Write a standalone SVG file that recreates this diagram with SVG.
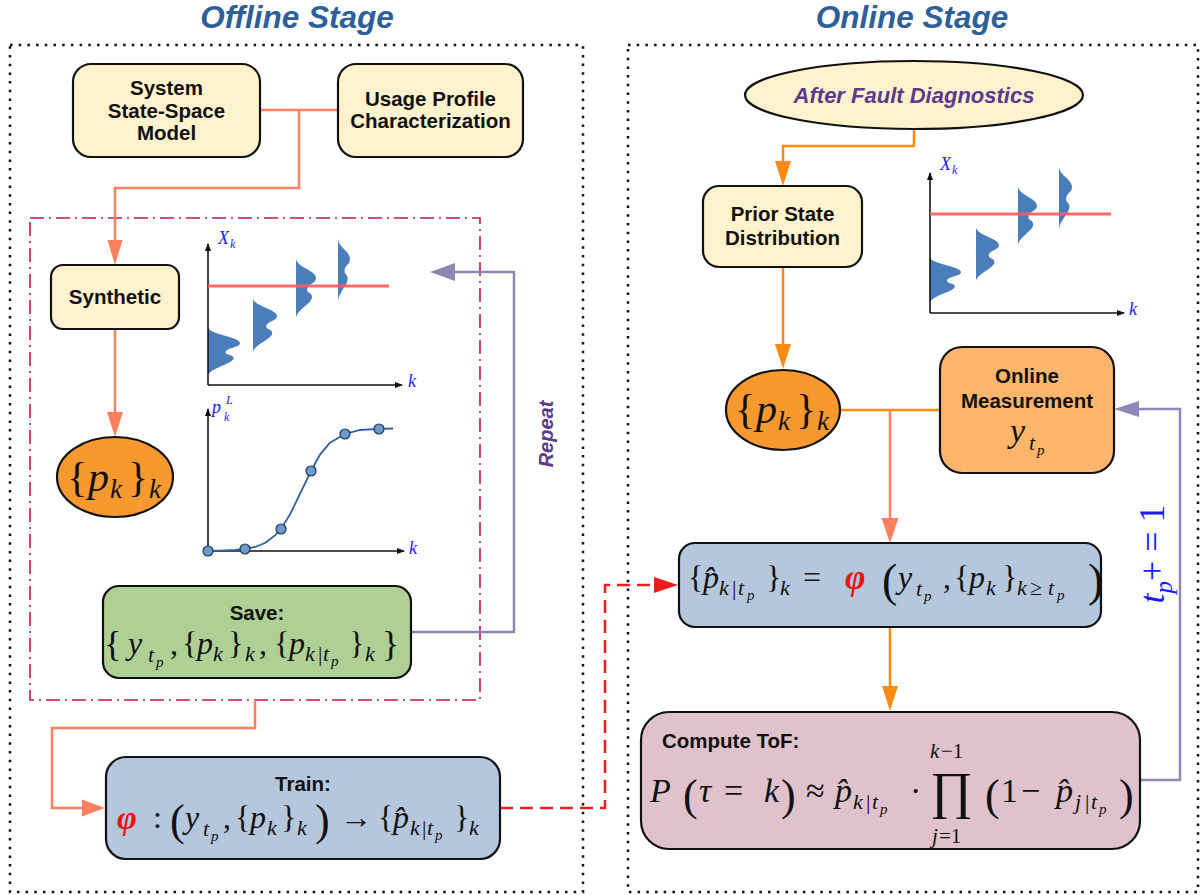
<svg xmlns="http://www.w3.org/2000/svg" xmlns:xlink="http://www.w3.org/1999/xlink" width="1201" height="895" viewBox="0 0 1201 895">
<style>
.lbl{font-family:"Liberation Sans",Arial,sans-serif;font-weight:bold;font-size:20.5px;fill:#111;text-anchor:middle}
.title{font-family:"Liberation Sans",Arial,sans-serif;font-weight:bold;font-style:italic;font-size:31.5px;fill:#2d6099;text-anchor:middle}
.m{font-family:"Liberation Serif","DejaVu Serif",serif;fill:#111}
.i{font-style:italic}
.box{stroke:#111;stroke-width:2.2}
.yel{fill:#fff2cc}
.outer{fill:none;stroke:#111;stroke-width:2.5;stroke-dasharray:2.5 6.2}
.coral{fill:none;stroke:#ff7f5e;stroke-width:2.5}
.orng{fill:none;stroke:#ff8a14;stroke-width:2.5}
.purp{fill:none;stroke:#8d88b8;stroke-width:2.5}
.ax{fill:none;stroke:#111;stroke-width:1.6}
.axl{font-family:"Liberation Serif","DejaVu Serif",serif;font-style:italic;fill:#1a1aff}
.thr{stroke:#ff5c5c;stroke-width:3;opacity:0.9}
.dist{fill:#4a7ebb}
.dot{fill:#6a9bd1;stroke:#1f3550;stroke-width:1.2}
</style>
<defs>
<path id="dist" d="M0,0 C0,15 100,20 100,33 C100,42 55,42 55,52 C55,58 80,56 80,64 C80,75 0,85 0,100 Z"/>
<marker id="axA" markerWidth="8" markerHeight="8" refX="7" refY="4" orient="auto" markerUnits="userSpaceOnUse"><path d="M0,1 L8,4 L0,7 Z" fill="#111"/></marker>
</defs>

<rect width="1201" height="895" fill="#fff"/>

<text class="title" x="297" y="28">Offline Stage</text>
<text class="title" x="912" y="28">Online Stage</text>

<rect class="outer" x="10" y="45" width="573" height="847"/>
<rect class="outer" x="628" y="45" width="570" height="847"/>
<rect x="30" y="218" width="450" height="482" fill="none" stroke="#c41650" stroke-width="1.6" stroke-dasharray="14 5 2 5"/>

<g id="connectors">
<path class="coral" d="M260,110 H338"/>
<path class="coral" d="M299,110 V188 H115 V243"/>
<polygon points="115,265 107.5,240 122.5,240" fill="#ff7f5e"/>
<path class="coral" d="M115,329 V414"/>
<polygon points="115,437 107,412 123,412" fill="#ff7f5e"/>
<path class="purp" d="M411,632 H514 V272 H452"/>
<polygon points="430,272 455,263 455,281" fill="#8d88b8"/>
<path class="coral" d="M255,700 V728 H52 V808 H84"/>
<polygon points="105,808 82,799.5 82,816.5" fill="#ff7f5e"/>
<path d="M500,808 H605 V585 H656" fill="none" stroke="#ee1c1c" stroke-width="2.5" stroke-dasharray="13 7"/>
<polygon points="678,585 654,577 654,593" fill="#ee1c1c"/>
<path class="orng" d="M914,129 V146 H783 V163"/>
<polygon points="783,186 775,161 791,161" fill="#ff8a14"/>
<path class="orng" d="M783,267 V346"/>
<polygon points="783,369 775,344 791,344" fill="#ff8a14"/>
<path class="orng" d="M840,410 H940"/>
<path class="coral" d="M890,410 V520"/>
<polygon points="890,543 881.5,518 898.5,518" fill="#ff7f5e"/>
<path class="orng" d="M890,627 V689"/>
<polygon points="890,711 882,686 898,686" fill="#ff8a14"/>
<path class="purp" d="M1140,780 H1180 V409 H1136"/>
<polygon points="1114,409 1139,401 1139,417" fill="#8d88b8"/>
<text transform="translate(553,434) rotate(-90)" font-family="Liberation Sans,Arial,sans-serif" font-weight="bold" font-style="italic" font-size="20" fill="#5b3a8c" text-anchor="middle">Repeat</text>
<text transform="translate(1164,554) rotate(-90)" class="m" style="fill:#1a1aff" text-anchor="middle" font-size="36"><tspan class="i">t</tspan><tspan class="i" font-size="25" dy="8">p</tspan><tspan dy="-8">+ = 1</tspan></text>
</g>

<g id="system-model">
<rect class="box yel" x="73" y="64" width="187" height="93" rx="18"/>
<text class="lbl" x="166.5" y="95">System</text>
<text class="lbl" x="166.5" y="118">State-Space</text>
<text class="lbl" x="166.5" y="140">Model</text>
</g>

<g id="usage-profile">
<rect class="box yel" x="338" y="64" width="185" height="93" rx="18"/>
<text class="lbl" x="430.5" y="106">Usage Profile</text>
<text class="lbl" x="430.5" y="128">Characterization</text>
</g>

<g id="synthetic">
<rect class="box yel" x="51" y="265" width="128" height="64" rx="12"/>
<text class="lbl" x="115" y="304">Synthetic</text>
</g>

<g id="pk-offline">
<ellipse class="box" cx="115" cy="477" rx="58" ry="40" fill="#f8992f"/>
<text class="m" font-size="42"><tspan x="67" y="491">{</tspan><tspan class="i" x="88" y="491">p</tspan><tspan class="i" x="110" y="498" font-size="27">k</tspan><tspan x="128" y="491">}</tspan><tspan class="i" x="149" y="498" font-size="27">k</tspan></text>
</g>

<g id="chart-offline-states">
<use xlink:href="#dist" class="dist" transform="translate(208,327) scale(0.32,0.49)"/>
<use xlink:href="#dist" class="dist" transform="translate(253,298) scale(0.24,0.55)"/>
<use xlink:href="#dist" class="dist" transform="translate(296,258) scale(0.20,0.61)"/>
<use xlink:href="#dist" class="dist" transform="translate(338,238) scale(0.12,0.64)"/>
<path class="ax" d="M208,385 V244" marker-end="url(#axA)"/>
<path class="ax" d="M208,385 H402" marker-end="url(#axA)"/>
<line class="thr" x1="208" y1="286" x2="389" y2="286"/>
<text class="axl" x="218" y="244" font-size="18">X</text><text class="axl" x="230" y="248" font-size="12">k</text>
<text class="axl" x="408" y="387" font-size="18">k</text>
</g>

<g id="chart-offline-prob">
<path class="ax" d="M208,551 V409" marker-end="url(#axA)"/>
<path class="ax" d="M208,551 H404" marker-end="url(#axA)"/>
<path d="M208,551 L220,550.6 L235,550 L245,549 L255,547 L265,543 L275,535.4 L281,529 L290,514.4 L300,493.8 L311,471 L320,454.6 L330,442.6 L345,434 L360,430 L379,428.8 L393,428.5" fill="none" stroke="#2f5f9e" stroke-width="1.8"/>
<circle class="dot" cx="208" cy="551" r="5"/>
<circle class="dot" cx="245" cy="549" r="5"/>
<circle class="dot" cx="281" cy="529" r="5"/>
<circle class="dot" cx="311" cy="471" r="5"/>
<circle class="dot" cx="345" cy="434" r="5"/>
<circle class="dot" cx="379" cy="429" r="5"/>
<text class="axl" x="212" y="413" font-size="18">p</text><text class="axl" x="226" y="404" font-size="12">L</text><text class="axl" x="224" y="421" font-size="12">k</text>
<text class="axl" x="409" y="554" font-size="18">k</text>
</g>

<g id="save">
<rect class="box" x="103" y="586" width="308" height="92" rx="16" fill="#aed094"/>
<text class="lbl" x="257" y="620" font-size="23">Save:</text>
<text class="m" font-size="32">
<tspan x="104" y="656" font-size="36">{</tspan>
<tspan class="i" x="128" y="654">y</tspan>
<tspan class="i" x="148" y="662" font-size="22">t</tspan><tspan class="i" x="156" y="667" font-size="15">p</tspan>
<tspan x="170" y="654">,</tspan>
<tspan x="182" y="654">{</tspan>
<tspan class="i" x="197" y="654">p</tspan>
<tspan class="i" x="213" y="661" font-size="22">k</tspan>
<tspan x="228" y="654">}</tspan>
<tspan class="i" x="245" y="661" font-size="22">k</tspan>
<tspan x="259" y="654">,</tspan>
<tspan x="274" y="654">{</tspan>
<tspan class="i" x="289" y="654">p</tspan>
<tspan class="i" x="305" y="661" font-size="22">k</tspan><tspan x="318" y="661" font-size="22">|</tspan><tspan class="i" x="323" y="661" font-size="22">t</tspan><tspan class="i" x="331" y="666" font-size="15">p</tspan>
<tspan x="349" y="654">}</tspan>
<tspan class="i" x="365" y="661" font-size="22">k</tspan>
<tspan x="382" y="656" font-size="36">}</tspan>
</text>
</g>

<g id="train">
<rect class="box" x="106" y="757" width="394" height="102" rx="20" fill="#b4c7dd"/>
<text class="lbl" x="303" y="791" font-size="23">Train:</text>
<text class="m" font-size="32">
<tspan class="i" x="117" y="829" font-size="34" font-weight="bold" style="fill:#ee1111">φ</tspan>
<tspan x="153" y="828">:</tspan>
<tspan x="170" y="835" font-size="44">(</tspan>
<tspan class="i" x="185" y="828">y</tspan>
<tspan class="i" x="203" y="836" font-size="22">t</tspan><tspan class="i" x="211" y="841" font-size="15">p</tspan>
<tspan x="223" y="828">,</tspan>
<tspan x="235" y="828">{</tspan>
<tspan class="i" x="250" y="828">p</tspan>
<tspan class="i" x="267" y="835" font-size="22">k</tspan>
<tspan x="281" y="828">}</tspan>
<tspan class="i" x="297" y="835" font-size="22">k</tspan>
<tspan x="315" y="835" font-size="44">)</tspan>
<tspan x="340" y="828">→</tspan>
<tspan x="378" y="828">{</tspan>
<tspan class="i" x="393" y="828">p&#x302;</tspan>
<tspan class="i" x="410" y="835" font-size="22">k</tspan><tspan x="422" y="835" font-size="22">|</tspan><tspan class="i" x="427" y="835" font-size="22">t</tspan><tspan class="i" x="435" y="840" font-size="15">p</tspan>
<tspan x="454" y="828">}</tspan>
<tspan class="i" x="469" y="835" font-size="22">k</tspan>
</text>
</g>

<g id="after-fault">
<ellipse class="box yel" cx="914" cy="95" rx="169" ry="34"/>
<text x="914" y="103" font-family="Liberation Sans,Arial,sans-serif" font-weight="bold" font-style="italic" font-size="22" fill="#5b3a8c" text-anchor="middle">After Fault Diagnostics</text>
</g>

<g id="prior">
<rect class="box yel" x="703" y="186" width="159" height="81" rx="16"/>
<text class="lbl" x="782.5" y="221">Prior State</text>
<text class="lbl" x="782.5" y="245">Distribution</text>
</g>

<g id="chart-online-states">
<use xlink:href="#dist" class="dist" transform="translate(930,257) scale(0.31,0.46)"/>
<use xlink:href="#dist" class="dist" transform="translate(976,227) scale(0.23,0.55)"/>
<use xlink:href="#dist" class="dist" transform="translate(1018,186) scale(0.19,0.60)"/>
<use xlink:href="#dist" class="dist" transform="translate(1059,166) scale(0.13,0.64)"/>
<path class="ax" d="M930,313 V173" marker-end="url(#axA)"/>
<path class="ax" d="M930,313 H1124" marker-end="url(#axA)"/>
<line class="thr" x1="930" y1="214" x2="1111" y2="214"/>
<text class="axl" x="940" y="170" font-size="18">X</text><text class="axl" x="952" y="174" font-size="12">k</text>
<text class="axl" x="1129" y="315" font-size="18">k</text>
</g>

<g id="pk-online">
<ellipse class="box" cx="783" cy="410" rx="57" ry="40" fill="#f8992f"/>
<text class="m" font-size="42"><tspan x="735" y="423">{</tspan><tspan class="i" x="756" y="423">p</tspan><tspan class="i" x="778" y="430" font-size="27">k</tspan><tspan x="796" y="423">}</tspan><tspan class="i" x="817" y="430" font-size="27">k</tspan></text>
</g>

<g id="online-measurement">
<rect class="box" x="940" y="347" width="174" height="126" rx="22" fill="#ffb56b"/>
<text class="lbl" x="1027" y="383" font-size="23.5">Online</text>
<text class="lbl" x="1027" y="408" font-size="23.5">Measurement</text>
<text class="m" font-size="34"><tspan class="i" x="1010" y="442">y</tspan><tspan class="i" x="1029" y="450" font-size="22">t</tspan><tspan class="i" x="1037" y="455" font-size="15">p</tspan></text>
</g>

<g id="estimate">
<rect class="box" x="679" y="543" width="422" height="84" rx="16" fill="#b4c7dd"/>
<text class="m" font-size="32">
<tspan x="688" y="588">{</tspan>
<tspan class="i" x="703" y="588">p&#x302;</tspan>
<tspan class="i" x="719" y="595" font-size="22">k</tspan><tspan x="732" y="595" font-size="22">|</tspan><tspan class="i" x="738" y="595" font-size="22">t</tspan><tspan class="i" x="747" y="600" font-size="15">p</tspan>
<tspan x="766" y="588">}</tspan>
<tspan class="i" x="780" y="595" font-size="22">k</tspan>
<tspan x="803" y="588">=</tspan>
<tspan class="i" x="845" y="589" font-size="35" font-weight="bold" style="fill:#ee1111">φ</tspan>
<tspan x="882" y="596" font-size="46">(</tspan>
<tspan class="i" x="898" y="588">y</tspan>
<tspan class="i" x="916" y="596" font-size="22">t</tspan><tspan class="i" x="924" y="601" font-size="15">p</tspan>
<tspan x="943" y="588">,</tspan>
<tspan x="954" y="588">{</tspan>
<tspan class="i" x="969" y="588">p</tspan>
<tspan class="i" x="986" y="595" font-size="22">k</tspan>
<tspan x="1002" y="588">}</tspan>
<tspan class="i" x="1017" y="595" font-size="22">k</tspan><tspan x="1030" y="595" font-size="22">≥</tspan><tspan class="i" x="1048" y="595" font-size="22">t</tspan><tspan class="i" x="1057" y="600" font-size="15">p</tspan>
<tspan x="1088" y="596" font-size="46">)</tspan>
</text>
</g>

<g id="compute-tof">
<rect class="box" x="641" y="712" width="499" height="137" rx="28" fill="#dfc2cc"/>
<text class="lbl" x="662" y="748" font-size="23.5" style="text-anchor:start">Compute ToF:</text>
<text class="m" font-size="34">
<tspan class="i" x="650" y="802">P</tspan>
<tspan x="683" y="810" font-size="44">(</tspan>
<tspan class="i" x="699" y="802">τ</tspan>
<tspan x="724" y="802">=</tspan>
<tspan class="i" x="764" y="802">k</tspan>
<tspan x="781" y="810" font-size="44">)</tspan>
<tspan x="806" y="802">≈</tspan>
<tspan class="i" x="835" y="802">p&#x302;</tspan>
<tspan class="i" x="853" y="809" font-size="22">k</tspan><tspan x="866" y="809" font-size="22">|</tspan><tspan class="i" x="872" y="809" font-size="22">t</tspan><tspan class="i" x="880" y="814" font-size="15">p</tspan>
<tspan x="910" y="802">·</tspan>
<tspan x="930" y="808" font-size="52">∏</tspan>
<tspan x="985" y="810" font-size="44">(</tspan>
<tspan x="1001" y="802">1</tspan>
<tspan x="1021" y="802">−</tspan>
<tspan class="i" x="1056" y="802">p&#x302;</tspan>
<tspan class="i" x="1075" y="809" font-size="22">j</tspan><tspan x="1085" y="809" font-size="22">|</tspan><tspan class="i" x="1091" y="809" font-size="22">t</tspan><tspan class="i" x="1099" y="814" font-size="15">p</tspan>
<tspan x="1119" y="810" font-size="44">)</tspan>
</text>
<text class="m" font-size="21"><tspan class="i" x="930" y="758">k</tspan><tspan x="941" y="758">−1</tspan></text>
<text class="m" font-size="21"><tspan class="i" x="932" y="843">j</tspan><tspan x="939" y="843">=1</tspan></text>
</g>
</svg>
